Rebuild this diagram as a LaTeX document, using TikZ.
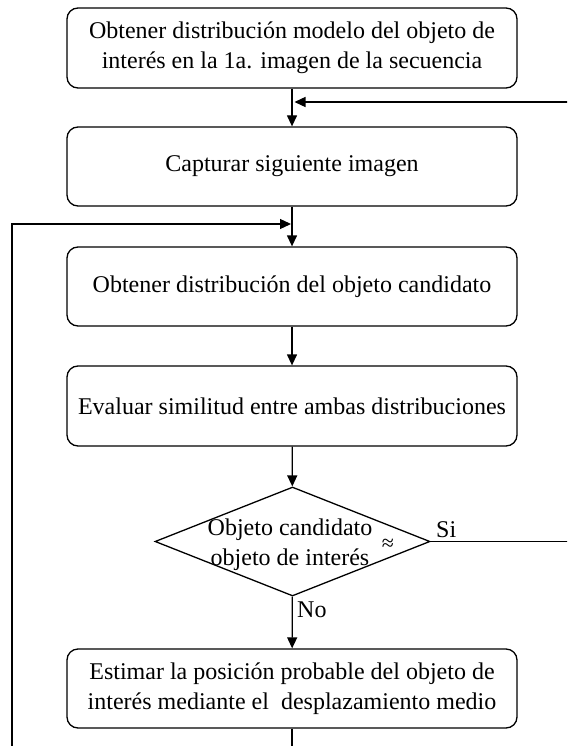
\documentclass[tikz,border=0pt]{standalone}
\usepackage{fontspec}
\setmainfont{Liberation Serif}
\usetikzlibrary{shapes.geometric,arrows.meta}
\begin{document}
\begin{tikzpicture}[x=1pt,y=-1pt,
  every node/.style={font=\fontsize{24}{30}\selectfont},
  stepbox/.style={draw, rounded corners=11pt, minimum width=450pt, minimum height=80pt,
    align=center, inner sep=0pt, line width=1.3pt},
  decision/.style={draw, diamond, minimum width=275pt, minimum height=109pt,
    inner sep=0pt, line width=1.3pt},
  link/.style={line width=1.3pt, -{Triangle[length=11pt,width=10pt]}},
  tag/.style={inner sep=0pt}]
\useasboundingbox (0,0) rectangle (567,746);
\clip (0,0) rectangle (567,746);

% process steps
\node[stepbox] (b1) at (292,48)
  {Obtener distribución modelo del objeto de\\interés en la 1a. imagen de la secuencia};
\node[stepbox, minimum height=79pt] (b2) at (292,166.5) {Capturar siguiente imagen};
\node[stepbox, minimum height=79pt] (b3) at (292,286.5) {Obtener distribución del objeto candidato};
\node[stepbox] (b4) at (292,406) {Evaluar similitud entre ambas distribuciones};
\node[decision] (dec) at (292.5,541.5) {};
\node[align=center, inner sep=0pt] (dectxt) at (290,545) {Objeto candidato\\objeto de interés};
\node[inner sep=0pt, font=\fontsize{22}{24}\selectfont] (approx) at (388,545) {≈};
\node[stepbox, minimum height=79pt] (b5) at (292,688.5)
  {Estimar la posición probable del objeto de\\interés mediante el~ desplazamiento medio};

% main flow
\draw[link] (b1) -- (b2);
\draw[link] (b2) -- (b3);
\draw[link] (b3) -- (b4);
\draw[link] (b4) -- (dec);
\draw[link] (dec) -- (b5);

% branch labels
\node[tag, anchor=base west] (si) at (436,537) {Si};
\node[tag, anchor=base west] (no) at (297,617) {No};

% loop back when the candidate matches
\coordinate (r1) at (580,541.5);
\coordinate (r2) at (580,102);
\coordinate (m1) at (294.5,102);
\draw[link] (dec.east) -- (r1) -- (r2) -- (m1);

% loop back after the position estimate
\coordinate (l0) at (292,770);
\coordinate (l1) at (12,770);
\coordinate (l2) at (12,224);
\coordinate (m2) at (291,224);
\draw[link] (b5.south) -- (l0) -- (l1) -- (l2) -- (m2);
\end{tikzpicture}
\end{document}
